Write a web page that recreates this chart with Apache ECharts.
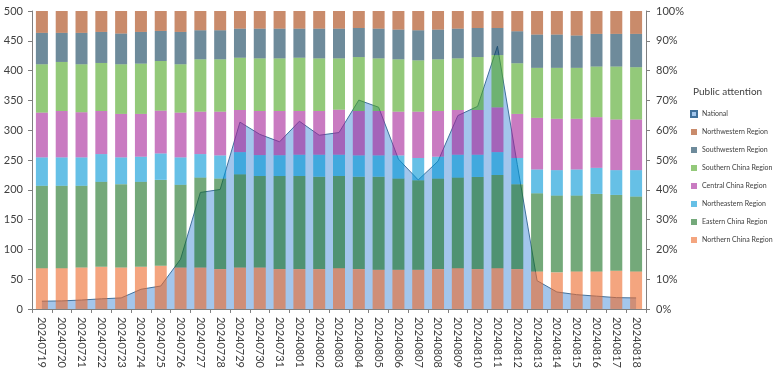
<!DOCTYPE html>
<html>
<head>
<meta charset="utf-8">
<script src="https://cdn.jsdelivr.net/npm/echarts@6/dist/echarts.min.js"></script>
<style>
html,body{margin:0;padding:0;background:#fff;}
#c{width:778px;height:371px;}
</style>
</head>
<body>
<div id="c"></div>
<script>
var categories = ['20240719','20240720','20240721','20240722','20240723','20240724','20240725','20240726','20240727','20240728','20240729','20240730','20240731','20240801','20240802','20240803','20240804','20240805','20240806','20240807','20240808','20240809','20240810','20240811','20240812','20240813','20240814','20240815','20240816','20240817','20240818'];

var national = [2.6,2.7,3.0,3.4,3.7,6.6,7.7,16.7,39.1,40.1,62.7,58.6,56.1,63.0,58.3,59.2,70.1,67.7,50.3,43.3,49.6,64.9,68.0,88.2,48.5,9.5,5.7,4.8,4.3,3.8,3.7];

var northern = [68.5,68.5,69.6,70.7,69.6,70.7,72.4,69.6,69.6,66.9,69.6,69.6,67.0,66.9,66.9,68.5,66.9,65.8,65.8,65.8,66.9,68.5,66.9,68.5,66.9,63.0,61.4,63.0,63.0,64.1,63.0];
var eastern = [138.2,138.2,137.1,142.6,139.8,142.6,144.2,138.7,150.8,151.9,156.3,153.5,156.0,156.2,155.1,154.6,155.1,156.2,153.0,150.2,151.9,151.9,154.6,156.3,142.5,131.1,128.8,127.2,130.0,127.2,125.6];
var northeastern = [47.7,47.7,47.7,46.6,45.0,42.2,44.4,46.1,39.5,38.9,37.3,35.1,35.0,35.7,36.8,35.7,35.7,35.7,38.9,37.3,36.7,38.4,37.3,38.4,43.9,40.0,42.8,43.9,43.8,41.7,44.4];
var central = [75.1,77.8,75.7,72.3,72.9,71.8,71.8,75.1,71.2,73.4,70.7,74.0,74.2,73.4,73.4,75.6,74.5,74.5,73.4,77.8,76.7,75.1,75.1,75.1,74.0,86.6,86.1,85.0,85.0,85.0,85.0];
var southern = [81.1,82.3,80.5,80.6,83.3,84.4,83.3,81.1,87.8,87.8,87.7,88.3,88.3,89.4,88.3,86.1,90.5,88.3,87.8,86.1,86.7,86.6,88.8,87.7,85.0,83.9,85.5,85.5,85.0,88.8,87.7];
var southwestern = [52.7,48.8,52.7,52.1,51.6,53.2,50.5,54.3,48.8,48.8,48.8,49.9,49.9,48.8,49.9,49.9,48.8,49.9,49.9,50.5,49.9,49.9,48.8,45.5,53.7,55.9,55.9,54.3,54.8,54.8,55.9];
var northwestern = [36.7,36.7,36.7,35.1,37.8,35.1,33.4,35.1,32.3,32.3,29.6,29.6,29.6,29.6,29.6,29.6,28.5,29.6,31.2,32.3,31.2,29.6,28.5,28.5,34.0,39.5,39.5,41.1,38.4,38.4,38.4];

var leftTicks = [0,50,100,150,200,250,300,350,400,450,500];
var rightTicks = [0,10,20,30,40,50,60,70,80,90,100];

var FONT = 'Lato';
var axisColor = '#7f7f7f';
var labelColor = '#404040';

var regionSeries = [
  {name:'Northern China Region', data:northern, color:'rgb(237,105,42)'},
  {name:'Eastern China Region', data:eastern, color:'rgb(23,112,33)'},
  {name:'Northeastern Region', data:northeastern, color:'rgb(0,150,213)'},
  {name:'Central China Region', data:central, color:'rgb(165,35,152)'},
  {name:'Southern China Region', data:southern, color:'rgb(75,165,33)'},
  {name:'Southwestern Region', data:southwestern, color:'rgb(13,62,88)'},
  {name:'Northwestern Region', data:northwestern, color:'rgb(165,62,8)'}
];

var series = [{
  name:'National',
  type:'line',
  yAxisIndex:1,
  data:national,
  symbol:'none',
  smooth:false,
  z:1,
  lineStyle:{color:'#41719c',width:1},
  itemStyle:{color:'#a3c6ec',borderColor:'#41719c',borderWidth:1},
  areaStyle:{color:'#a3c6ec',opacity:1}
}];
regionSeries.forEach(function(s){
  series.push({
    name:s.name,
    type:'bar',
    stack:'regions',
    data:s.data,
    barWidth:12,
    z:3,
    itemStyle:{color:s.color,opacity:0.6}
  });
});

var chart = echarts.init(document.getElementById('c'), null, {renderer:'canvas'});
chart.setOption({
  animation:false,
  backgroundColor:'#ffffff',
  textStyle:{fontFamily:FONT},
  title:{
    text:'Public attention',
    left:693, top:87, padding:0,
    textStyle:{fontFamily:FONT,fontSize:10,fontWeight:'normal',color:labelColor}
  },
  legend:{
    orient:'vertical',
    left:690, top:110, padding:0,
    icon:'rect',
    itemWidth:6, itemHeight:6,
    itemGap:10,
    textStyle:{fontFamily:FONT,fontSize:7,color:labelColor,lineHeight:8},
    data:['National','Northwestern Region','Southwestern Region','Southern China Region','Central China Region','Northeastern Region','Eastern China Region','Northern China Region']
  },
  grid:{left:32,right:132,top:11,bottom:57,containLabel:false},
  xAxis:{
    type:'category',
    data:categories,
    boundaryGap:true,
    axisLine:{lineStyle:{color:axisColor,width:1}},
    axisTick:{show:true,length:4,lineStyle:{color:axisColor}},
    axisLabel:{rotate:-90,fontSize:11,color:labelColor,fontFamily:FONT,margin:8,interval:0}
  },
  yAxis:[{
    type:'value',
    min:leftTicks[0], max:leftTicks[leftTicks.length-1], interval:50,
    axisLine:{show:true,lineStyle:{color:axisColor}},
    axisTick:{show:true,length:4,lineStyle:{color:axisColor}},
    splitLine:{show:false},
    axisLabel:{fontSize:11,color:labelColor,fontFamily:FONT,margin:9}
  },{
    type:'value',
    min:rightTicks[0], max:rightTicks[rightTicks.length-1], interval:10,
    position:'right',
    axisLine:{show:true,lineStyle:{color:axisColor}},
    axisTick:{show:true,length:4,lineStyle:{color:axisColor}},
    splitLine:{show:false},
    axisLabel:{fontSize:11,color:labelColor,fontFamily:FONT,margin:10,formatter:'{value}%'}
  }],
  series:series
});
</script>
</body>
</html>
